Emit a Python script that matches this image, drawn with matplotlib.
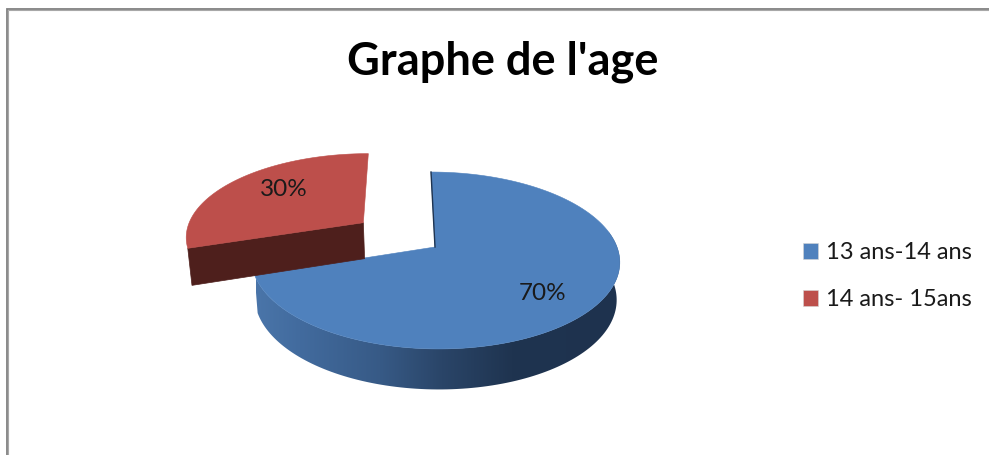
import numpy as np
import matplotlib
matplotlib.use("Agg")
import matplotlib.pyplot as plt
from matplotlib.colors import LinearSegmentedColormap
from matplotlib.patches import Patch, Polygon

plt.rcParams['font.family'] = ['Lato', 'DejaVu Sans']

title = "Graphe de l'age"
categories = ['13 ans-14 ans', '14 ans- 15ans']
values = [70, 30]
explode = [0.0, 0.5]
top_colors = ['#4f81bd', '#bd4f4b']
label_pos = [(543, 293), (284, 189)]

# pie projection, all in image pixels
cx, cy = 435, 247
ax_r, ay_r = 182, 86.4
persp = 0.1525
lean = -4


def project(u, v, below=False):
    den = 1 + persp * v
    x = ax_r * u / den + lean * v
    y = -ay_r * v / den
    if below:
        x = x * 0.983
        y = y + 37 - 3.5 * v
    return cx + x, cy + y


fig = plt.figure(figsize=(9.89, 4.55), dpi=100)
ax = fig.add_axes([0, 0, 1, 1])
ax.axis('off')

# chart frame
ax.plot([6.7, 6.7, 989], [455, 8.8, 8.8], color='#808080', lw=1.3, solid_joinstyle='miter')
ax.plot([7.8, 7.8, 989], [455, 9.9, 9.9], color='#a8a8a8', lw=0.8, solid_joinstyle='miter')

fractions = np.array(values) / sum(values)
starts = np.concatenate([[0], np.cumsum(fractions)[:-1]]) * 2 * np.pi
ends = np.cumsum(fractions) * 2 * np.pi

# shading of the blue rim, light on the left, dark on the right
rim_cmap = LinearSegmentedColormap.from_list('rim', [
    (0.0, '#4a75a9'), (0.12, '#426b9e'), (0.34, '#375a86'),
    (0.51, '#2a4568'), (0.70, '#1f3450'), (1.0, '#1e324e')])

for i in range(len(values)):
    th = np.linspace(starts[i], ends[i], 181)
    mid = (starts[i] + ends[i]) / 2
    du, dv = explode[i] * np.sin(mid), explode[i] * np.cos(mid)
    us, vs = du + np.sin(th), dv + np.cos(th)

    if i == 1:
        # cut face of the pulled-out slice
        us2 = [du, du + np.sin(starts[i])]
        vs2 = [dv, dv + np.cos(starts[i])]
        a = [project(u, v) for u, v in zip(us2, vs2)]
        b = [project(u, v, True) for u, v in zip(us2, vs2)]
        ax.add_patch(Polygon(a + b[::-1], closed=True, fc='#4e1f1c', ec='#4e1f1c', lw=0.5, zorder=3))
    else:
        # rim, front part only, as one gradient clipped to the outline
        front = np.cos(th) < 0.2
        upper = [project(u, v) for u, v in zip(us[front], vs[front])]
        lower = [project(u, v, True) for u, v in zip(us[front], vs[front])]
        rim = Polygon(upper + lower[::-1], closed=True, fc='none', ec='none', zorder=1)
        ax.add_patch(rim)
        im = ax.imshow(np.linspace(0, 1, 256)[None, :], cmap=rim_cmap, aspect='auto',
                       extent=(256, 621, 455, 0), zorder=1)
        im.set_clip_path(rim)

    pts = [project(du, dv)] + [project(u, v) for u, v in zip(us, vs)]
    ax.add_patch(Polygon(pts, closed=True, fc=top_colors[i], ec=top_colors[i], lw=0.4,
                         zorder=2 if i == 0 else 4))
    if i == 0:
        # thin dark edge on the inner cut
        ax.plot(*zip(project(du, dv), project(du + np.sin(starts[i]), dv + np.cos(starts[i]))),
                color='#1f3450', lw=1.0, zorder=2)
    ax.text(label_pos[i][0], label_pos[i][1], '%d%%' % values[i], fontsize=17.5, color='#1a1a1a',
            ha='center', va='center', zorder=5)

ax.text(503, 62, title, fontsize=32.5, fontweight='bold', color='black', ha='center', va='center')

ax.set_xlim(0, 989)
ax.set_ylim(455, 0)

handles = [Patch(fc=c, ec='#d5d5d5', lw=0.4, label=n) for c, n in zip(top_colors, categories)]
ax.legend(handles=handles, loc='upper left', bbox_to_anchor=(782, 221), bbox_transform=ax.transData,
          frameon=False, fontsize=17, handlelength=0.63, handleheight=0.63, handletextpad=0.34,
          labelspacing=1.1, labelcolor='#1a1a1a')

fig.savefig('out.png', dpi=100)
